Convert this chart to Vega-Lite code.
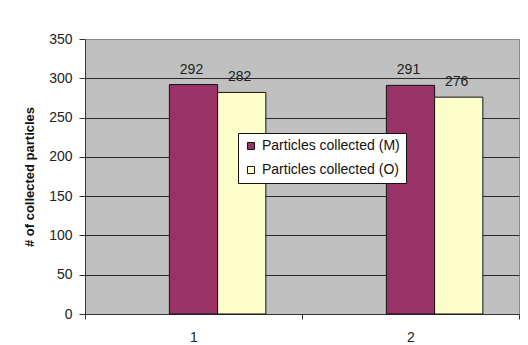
{
  "$schema": "https://vega.github.io/schema/vega-lite/v6.json",
  "width": 434,
  "height": 275,
  "autosize": {"type": "none"},
  "padding": {"left": 85, "top": 39, "right": 9, "bottom": 31},
  "background": "white",
  "data": {
    "values": [
      {"set": "1", "series": "Particles collected (M)", "count": 292},
      {"set": "1", "series": "Particles collected (O)", "count": 282},
      {"set": "2", "series": "Particles collected (M)", "count": 291},
      {"set": "2", "series": "Particles collected (O)", "count": 276}
    ]
  },
  "encoding": {
    "x": {
      "field": "set",
      "type": "nominal",
      "scale": {"paddingInner": 0, "paddingOuter": 0},
      "axis": {
        "title": null,
        "labelAngle": 0,
        "tickBand": "extent",
        "tickSize": 5,
        "tickColor": "#333",
        "domainColor": "#333",
        "labelPadding": 11,
        "grid": false
      }
    },
    "xOffset": {
      "field": "series",
      "type": "nominal",
      "scale": {
        "domain": ["", "Particles collected (M)", "Particles collected (O)"],
        "paddingInner": 0,
        "paddingOuter": 0.75
      }
    },
    "y": {
      "field": "count",
      "type": "quantitative",
      "scale": {"domain": [0, 350], "nice": false},
      "axis": {
        "title": "# of collected particles",
        "values": [0, 50, 100, 150, 200, 250, 300, 350],
        "tickSize": 6,
        "tickColor": "#333",
        "domainColor": "#333",
        "labelPadding": 7,
        "titlePadding": 12,
        "grid": true,
        "gridColor": {"condition": {"test": "datum.value == 350", "value": "#8a8a8a"}, "value": "#2a2a2a"},
        "gridOpacity": 1
      }
    }
  },
  "layer": [
    {
      "mark": {"type": "bar", "stroke": "#111", "strokeWidth": 1},
      "encoding": {
        "color": {
          "field": "series",
          "type": "nominal",
          "scale": {
            "domain": ["Particles collected (M)", "Particles collected (O)"],
            "range": ["#993366", "#FFFFCC"]
          },
          "legend": {
            "title": null,
            "orient": "none",
            "legendX": 153,
            "legendY": 94
          }
        }
      }
    },
    {
      "mark": {
        "type": "text",
        "baseline": "alphabetic",
        "dy": -11,
        "dx": -2,
        "font": "Liberation Sans",
        "fontSize": 14,
        "color": "#222"
      },
      "encoding": {
        "text": {"field": "count", "type": "quantitative"}
      }
    }
  ],
  "config": {
    "view": {"fill": "#C0C0C0", "stroke": "#8a8a8a", "strokeWidth": 1},
    "axis": {
      "labelFont": "Liberation Sans",
      "labelFontSize": 14,
      "labelColor": "#222",
      "titleFont": "Liberation Sans",
      "titleFontSize": 13,
      "titleFontWeight": "bold",
      "titleColor": "#111"
    },
    "legend": {
      "fillColor": "white",
      "strokeColor": "#111",
      "padding": 6,
      "symbolType": "square",
      "symbolSize": 50,
      "symbolStrokeColor": "#111",
      "symbolStrokeWidth": 1,
      "symbolOpacity": 1,
      "labelFont": "Liberation Sans",
      "labelFontSize": 14,
      "labelColor": "#111",
      "labelOffset": 4,
      "rowPadding": 10,
      "labelLimit": 300
    }
  }
}
